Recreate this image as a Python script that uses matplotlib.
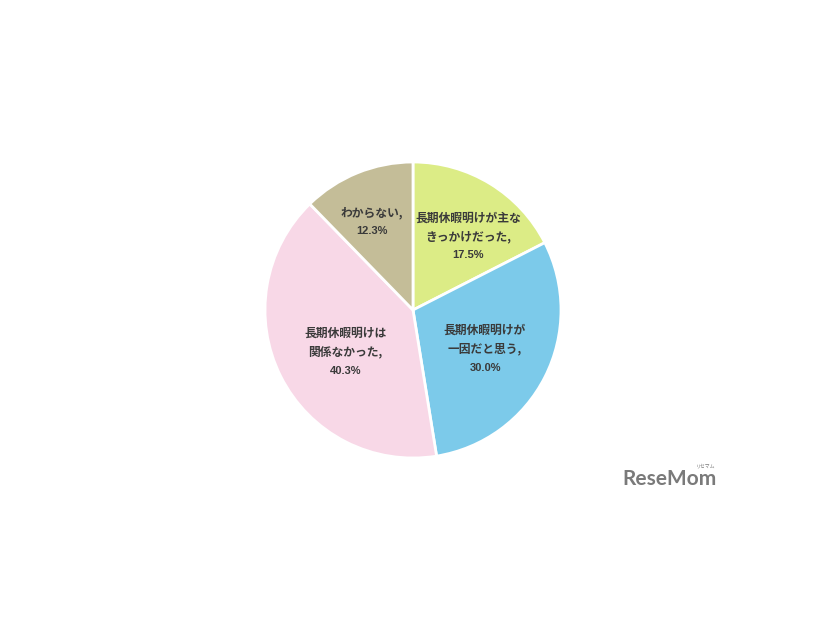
import matplotlib
matplotlib.use("Agg")
import matplotlib.pyplot as plt
import numpy as np

plt.rcParams['font.family'] = ['Noto Sans CJK JP', 'DejaVu Sans']

labels = ["長期休暇明けが主な\nきっかけだった,", "長期休暇明けが\n一因だと思う,", "長期休暇明けは\n関係なかった,", "わからない,"]
values = [17.5, 30.0, 40.3, 12.3]
colors = ["#dcec86", "#7ccaea", "#f8d8e7", "#c4bd98"]
label_dist = [0.62, 0.553, 0.54, 0.656]
label_ang_off = [-5.5, -1.4, 5.2, 3.0]

fig = plt.figure(figsize=(8.26, 6.2), dpi=100)
ax = fig.add_axes([(413 - 148) / 826, 1 - (310 + 148) / 620, 296 / 826, 296 / 620])
wedges, _ = ax.pie(values, colors=colors, startangle=90, counterclock=False,
                   wedgeprops=dict(edgecolor="white", linewidth=2), radius=1.0)
ax.set_xlim(-1, 1)
ax.set_ylim(-1, 1)
ax.set_aspect('equal')
ax.axis('off')

for w, lab, v, d, off in zip(wedges, labels, values, label_dist, label_ang_off):
    ang = np.deg2rad((w.theta1 + w.theta2) / 2 + off)
    x, y = d * np.cos(ang), d * np.sin(ang)
    nlines = lab.count("\n") + 1
    step = 0.127
    total = nlines + 1
    y0 = y + step * (total - 1) / 2
    for i, line in enumerate(lab.split("\n")):
        ax.text(x, y0 - i * step, line, ha='center', va='center', fontsize=8.5,
                fontweight='bold', color='#3a3a3a')
    ax.text(x, y0 - nlines * step, f"{v:.1f}%", ha='center', va='center', fontsize=8,
            fontweight='bold', color='#3a3a3a', family=['Liberation Sans', 'DejaVu Sans'])

fig.text(670 / 826, 1 - 479 / 620, "ReseMom", ha='center', va='center', fontsize=15,
         fontweight='bold', color='#7a7a7a', family=['Lato', 'DejaVu Sans'])
fig.text(706 / 826, 1 - 466 / 620, "リセマム", ha='center', va='center', fontsize=3.5,
         color='#7a7a7a')

fig.savefig("out.png", dpi=100, facecolor="white")
